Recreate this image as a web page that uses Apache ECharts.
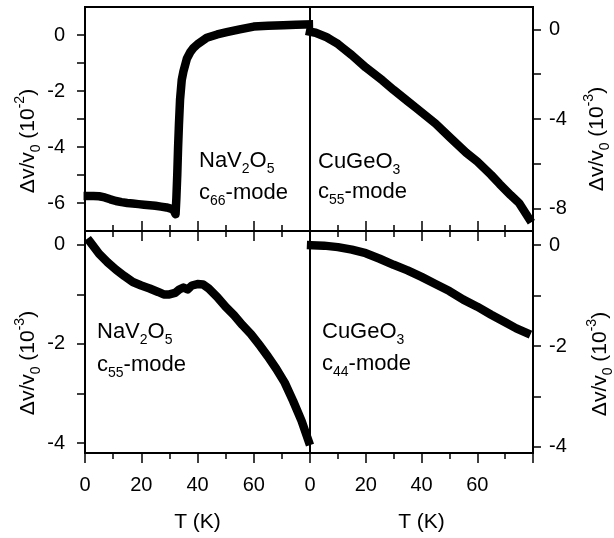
<!DOCTYPE html>
<html>
<head>
<meta charset="utf-8">
<script src="https://cdn.jsdelivr.net/npm/echarts@6/dist/echarts.min.js"></script>
<style>
  html, body { margin: 0; padding: 0; background: #fff; }
  #chart { width: 614px; height: 538px; }
</style>
</head>
<body>
<div id="chart"></div>
<script>
// 数据：四个面板 (T in K, Δv/v0)
var tNaC66 = [1, 3, 5, 7, 9, 11, 13, 15, 17, 19, 21, 23, 25, 27, 29, 30.5, 31.5, 32.2, 32.5, 32.8, 33.1, 33.4, 33.8, 34.4, 35, 36.2, 37.5, 38.5, 40, 43.3, 47, 50.4, 55, 60, 65, 70.5, 75, 79.6];
var vNaC66 = [-5.75, -5.75, -5.76, -5.8, -5.87, -5.93, -5.97, -6.0, -6.02, -6.04, -6.06, -6.08, -6.1, -6.13, -6.16, -6.2, -6.25, -6.4, -5.8, -5.0, -4.0, -3.2, -2.3, -1.6, -1.3, -0.85, -0.6, -0.47, -0.33, -0.1, 0.02, 0.1, 0.2, 0.3, 0.33, 0.35, 0.37, 0.38];

var tCuC55 = [0, 2, 4, 6, 8, 10, 12, 15, 20, 26, 30, 35, 38, 40, 45, 50, 56, 60, 65, 68, 72, 75, 78.6];
var vCuC55 = [-0.1, -0.15, -0.25, -0.35, -0.5, -0.65, -0.85, -1.15, -1.7, -2.28, -2.7, -3.2, -3.5, -3.7, -4.2, -4.8, -5.5, -5.9, -6.5, -6.9, -7.4, -7.75, -8.45];

var tNaC55 = [1.8, 5, 8, 11, 14, 17, 20, 23, 26, 28, 30, 32, 33.5, 35, 36.5, 38, 40, 42, 44, 47, 50, 53, 56, 59, 62, 65, 68, 71, 74, 77, 79.5];
var vNaC55 = [0.06, -0.18, -0.35, -0.5, -0.63, -0.75, -0.82, -0.88, -0.95, -1.0, -1.0, -0.97, -0.9, -0.86, -0.9, -0.82, -0.79, -0.8, -0.88, -1.05, -1.25, -1.42, -1.62, -1.8, -2.02, -2.25, -2.5, -2.78, -3.15, -3.55, -3.96];

var tCuC44 = [0.4, 5, 10, 15, 20, 25, 30, 35, 40, 45, 50, 55, 60, 65, 70, 74, 77.7];
var vCuC44 = [0, -0.01, -0.04, -0.09, -0.16, -0.27, -0.39, -0.5, -0.63, -0.77, -0.91, -1.08, -1.22, -1.38, -1.53, -1.65, -1.74];

// 刻度
var xLabels = [0, 20, 40, 60];
var yTicksTL = [0, -1, -2, -3, -4, -5, -6];
var yLabelsTL = [0, -2, -4, -6];
var yTicksTR = [0, -2, -4, -6, -8];
var yLabelsTR = [0, -4, -8];
var yTicksB = [0, -1, -2, -3, -4];
var yLabelsB = [0, -2, -4];

var font = 'Liberation Sans';

function pairs(xs, ys) {
  return xs.map(function (x, i) { return [x, ys[i]]; });
}

function xAx(grid, pos, opts) {
  var o = {
    type: 'value', gridIndex: grid, position: pos, min: 0, max: 80, interval: 20,
    splitLine: { show: false },
    axisLine: { show: true, onZero: false, lineStyle: { color: '#000', width: 2 } },
    axisTick: { show: true, inside: opts.inside, length: 10, lineStyle: { color: '#000', width: 1.5 } },
    minorTick: { show: true, splitNumber: 2, length: 6, lineStyle: { color: '#000', width: 1.5 } },
    axisLabel: { show: !!opts.labels, customValues: xLabels, margin: 22, color: '#000', fontSize: 20, fontFamily: font }
  };
  if (opts.name) {
    o.name = 'T (K)';
    o.nameLocation = 'middle';
    o.nameGap = 59;
    o.nameTextStyle = { color: '#000', fontSize: 21, fontFamily: font };
  }
  return o;
}

function yAx(grid, pos, min, max, ticks, labels, margin) {
  return {
    type: 'value', gridIndex: grid, position: pos, min: min, max: max,
    splitLine: { show: false },
    axisLine: { show: true, onZero: false, lineStyle: { color: '#000', width: 2 } },
    axisTick: { show: true, length: 8, customValues: ticks, lineStyle: { color: '#000', width: 1.5 } },
    axisLabel: { customValues: labels, margin: margin, color: '#000', fontSize: 20, fontFamily: font }
  };
}

function line(ix, data) {
  return {
    type: 'line', xAxisIndex: ix, yAxisIndex: ix, data: data,
    showSymbol: false, symbol: 'none', animation: false,
    lineStyle: { color: '#000', width: 8.5, join: 'round', cap: 'square' }
  };
}

var richMain = {
  m: { fontSize: 22, fontFamily: font, lineHeight: 30, fill: '#000' },
  s: { fontSize: 14, fontFamily: font, lineHeight: 10, verticalAlign: 'bottom', fill: '#000' }
};
var richName = {
  m: { fontSize: 21, fontFamily: font, lineHeight: 30, fill: '#000' },
  s: { fontSize: 14, fontFamily: font, lineHeight: 10, verticalAlign: 'bottom', fill: '#000' },
  p: { fontSize: 14, fontFamily: font, lineHeight: 10, verticalAlign: 'top', fill: '#000' }
};

function note(x, y, text) {
  return { type: 'text', x: x, y: y, style: { text: text, rich: richMain, align: 'left', verticalAlign: 'top' } };
}
function yName(x, y, exp) {
  return {
    type: 'text', x: x, y: y, rotation: Math.PI / 2,
    style: { text: '{m|Δv/v}{s|0}{m| (10}{p|' + exp + '}{m|)}', rich: richName, align: 'center', verticalAlign: 'middle' }
  };
}

var myChart = echarts.init(document.getElementById('chart'), null, { renderer: 'canvas' });

var gridStyle = { show: true, borderColor: '#000', borderWidth: 2, containLabel: false };

var option = {
  animation: false,
  grid: [
    Object.assign({ left: 85, top: 7, width: 225, height: 224 }, gridStyle),
    Object.assign({ left: 310, top: 7, width: 223, height: 224 }, gridStyle),
    Object.assign({ left: 85, top: 231, width: 225, height: 222 }, gridStyle),
    Object.assign({ left: 310, top: 231, width: 223, height: 222 }, gridStyle)
  ],
  xAxis: [
    xAx(0, 'bottom', { inside: true }),
    xAx(1, 'bottom', { inside: true }),
    xAx(2, 'bottom', { inside: false, labels: true, name: true }),
    xAx(3, 'bottom', { inside: false, labels: true, name: true }),
    xAx(2, 'top', { inside: true }),
    xAx(3, 'top', { inside: true })
  ],
  yAxis: [
    yAx(0, 'left', -7, 1, yTicksTL, yLabelsTL, 20),
    yAx(1, 'right', -9, 1, yTicksTR, yLabelsTR, 16),
    yAx(2, 'left', -4.2, 0.28, yTicksB, yLabelsB, 20),
    yAx(3, 'right', -4.12, 0.28, yTicksB, yLabelsB, 16)
  ],
  series: [
    line(0, pairs(tNaC66, vNaC66)),
    line(1, pairs(tCuC55, vCuC55)),
    line(2, pairs(tNaC55, vNaC55)),
    line(3, pairs(tCuC44, vCuC44))
  ],
  graphic: [
    note(199, 146, '{m|NaV}{s|2}{m|O}{s|5}'),
    note(199, 178, '{m|c}{s|66}{m|-mode}'),
    note(318, 147, '{m|CuGeO}{s|3}'),
    note(318, 177, '{m|c}{s|55}{m|-mode}'),
    note(97, 317, '{m|NaV}{s|2}{m|O}{s|5}'),
    note(97, 350, '{m|c}{s|55}{m|-mode}'),
    note(322, 317, '{m|CuGeO}{s|3}'),
    note(322, 349, '{m|c}{s|44}{m|-mode}'),
    yName(28, 141, '-2'),
    yName(28, 363, '-3'),
    yName(597, 139, '-3'),
    yName(600, 364, '-3')
  ]
};

myChart.setOption(option);
</script>
</body>
</html>
